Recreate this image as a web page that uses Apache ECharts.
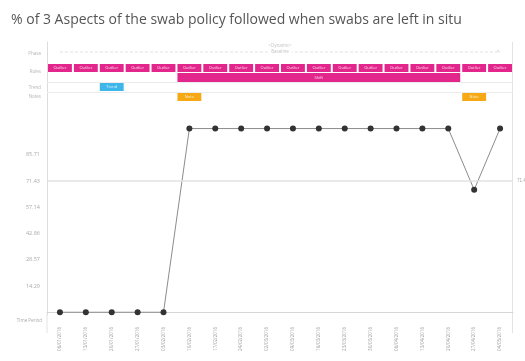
<!DOCTYPE html>
<html>
<head>
<meta charset="utf-8">
<script src="https://cdn.jsdelivr.net/npm/echarts@6/dist/echarts.min.js"></script>
<style>
  html, body { margin: 0; padding: 0; background: #fff; }
  #chart { width: 525px; height: 361px; }
</style>
</head>
<body>
<div id="chart"></div>
<script>
// Weekly audit periods
const categories = [
  '06/01/2016', '13/01/2016', '20/01/2016', '27/01/2016', '03/02/2016', '10/02/2016',
  '17/02/2016', '24/02/2016', '02/03/2016', '09/03/2016', '16/03/2016', '23/03/2016',
  '30/03/2016', '06/04/2016', '13/04/2016', '20/04/2016', '27/04/2016', '04/05/2016'
];
// % of the 3 aspects followed in each period
const pctFollowed = [0, 0, 0, 0, 0, 100, 100, 100, 100, 100, 100, 100, 100, 100, 100, 100, 66.67, 100];
const targetValue = 71.43;
const yTickValues = [14.29, 28.57, 42.86, 57.14, 71.43, 85.71];

// Annotation lanes shown above the chart (category indices)
const laneNames = ['Phase', 'Rules', 'Trend', 'Notes'];
const phaseSpans = [[0, 17]];
const phaseText = ['<Dynamic>', 'Baseline'];
const outlierWeeks = [0, 1, 2, 3, 4, 5, 6, 7, 8, 9, 10, 11, 12, 13, 14, 15, 16, 17];
const shiftSpans = [[5, 15]];
const trendSpans = [[2, 2]];
const noteSpans = [[5, 5], [16, 16]];

// lane geometry in the annotation strip's own units (0 = top, 60 = bottom)
const laneBand = {
  phase: 10,
  outlier: [22, 30],
  shift: [31, 40],
  trend: [41, 49],
  note: [51, 59]
};
const laneLabelAt = [12, 30, 46, 55];

const PINK = '#e2268c', BLUE = '#3fb6ea', ORANGE = '#f6a915';

function boxRenderer(band, color, text) {
  return function (params, api) {
    const s = api.value(0), e = api.value(1);
    const w = api.size([1, 0])[0];
    const a = api.coord([s, band[0]]);
    const b = api.coord([e, band[1]]);
    const x = a[0] - w / 2 + 1;
    const width = b[0] - a[0] + w - 2;
    return {
      type: 'group',
      children: [
        { type: 'rect', shape: { x: x, y: a[1], width: width, height: b[1] - a[1] },
          style: { fill: color } },
        { type: 'text', style: { text: text, x: x + width / 2, y: (a[1] + b[1]) / 2,
          fill: 'rgba(255,255,255,0.85)', fontSize: 4, fontFamily: 'Open Sans',
          align: 'center', verticalAlign: 'middle' } }
      ]
    };
  };
}

function phaseRenderer(params, api) {
  const s = api.value(0), e = api.value(1);
  const a = api.coord([s, laneBand.phase]);
  const b = api.coord([e, laneBand.phase]);
  const mid = (a[0] + b[0]) / 2;
  return {
    type: 'group',
    children: [
      { type: 'line', shape: { x1: a[0], y1: a[1], x2: b[0], y2: b[1] },
        style: { stroke: '#d9d9d9', lineWidth: 0.8, lineDash: [3, 2] } },
      { type: 'line', shape: { x1: b[0] - 3, y1: b[1] - 2, x2: b[0], y2: b[1] },
        style: { stroke: '#cfcfcf', lineWidth: 0.8 } },
      { type: 'text', style: { text: phaseText[0], x: mid, y: a[1] - 6, fill: '#c4c4c4',
        fontSize: 4.5, fontFamily: 'Open Sans', align: 'center', verticalAlign: 'middle' } },
      { type: 'text', style: { text: phaseText[1], x: mid, y: a[1], fill: '#c4c4c4',
        backgroundColor: '#fff', padding: [0, 3], fontSize: 4.5, fontFamily: 'Open Sans',
        align: 'center', verticalAlign: 'middle' } }
    ]
  };
}

const chart = echarts.init(document.getElementById('chart'), null, { renderer: 'canvas' });

const option = {
  backgroundColor: '#fff',
  animation: false,
  title: {
    text: '% of 3 Aspects of the swab policy followed when swabs are left in situ',
    left: 6, top: 8,
    textStyle: { fontFamily: 'Open Sans', fontSize: 14, fontWeight: 'normal', color: '#555' }
  },
  grid: [
    { left: 47, right: 12, top: 42, height: 60 },
    { left: 47, right: 12, top: 101, bottom: 46 }
  ],
  xAxis: [
    { gridIndex: 0, type: 'category', data: categories, show: false },
    {
      gridIndex: 1, type: 'category', data: categories,
      name: 'Time Period', nameLocation: 'start', nameGap: 5,
      nameTextStyle: { fontSize: 4.5, color: '#aaa', fontFamily: 'Open Sans',
        verticalAlign: 'top', padding: [6, 0, 0, 0] },
      axisLine: { lineStyle: { color: '#d6d6d6', width: 1 } },
      axisTick: { alignWithLabel: true, length: 4, lineStyle: { color: '#dcdcdc' } },
      axisLabel: { interval: 0, rotate: 90, margin: 12, fontSize: 4.5, color: '#9a9a9a',
        fontFamily: 'Open Sans' }
    }
  ],
  yAxis: [
    {
      gridIndex: 0, type: 'value', min: 0, max: 60, inverse: true,
      axisLine: { show: true, lineStyle: { color: '#dcdcdc' } },
      axisTick: { show: false }, splitLine: { show: false },
      axisLabel: {
        customValues: laneLabelAt, fontSize: 4.5, color: '#b5b5b5', margin: 6,
        fontFamily: 'Open Sans',
        formatter: function (v) { return laneNames[laneLabelAt.indexOf(v)] || ''; }
      }
    },
    {
      gridIndex: 1, type: 'value', min: -1.5, max: 115,
      axisLine: { show: true, lineStyle: { color: '#dcdcdc' } },
      axisTick: { show: false }, splitLine: { show: false },
      axisLabel: {
        customValues: yTickValues, fontSize: 5.5, color: '#aaa', margin: 7,
        fontFamily: 'Open Sans',
        formatter: function (v) { return v.toFixed(2); }
      }
    }
  ],
  graphic: [
    { type: 'line', shape: { x1: 512.5, y1: 42, x2: 512.5, y2: 333 },
      style: { stroke: '#e3e3e3', lineWidth: 1 } },
    { type: 'line', shape: { x1: 47, y1: 315, x2: 47, y2: 333 },
      style: { stroke: '#e3e3e3', lineWidth: 1 } }
  ],
  series: [
    {
      type: 'custom', xAxisIndex: 0, yAxisIndex: 0, silent: true,
      renderItem: phaseRenderer, data: phaseSpans,
      markLine: {
        silent: true, symbol: 'none', label: { show: false },
        lineStyle: { color: '#ececec', width: 1, type: 'solid' },
        data: [{ yAxis: 40.5 }, { yAxis: 50.5 }]
      }
    },
    {
      type: 'custom', xAxisIndex: 0, yAxisIndex: 0, silent: true,
      renderItem: boxRenderer(laneBand.outlier, PINK, 'Outlier'),
      data: outlierWeeks.map(function (i) { return [i, i]; })
    },
    {
      type: 'custom', xAxisIndex: 0, yAxisIndex: 0, silent: true,
      renderItem: boxRenderer(laneBand.shift, PINK, 'Shift'), data: shiftSpans
    },
    {
      type: 'custom', xAxisIndex: 0, yAxisIndex: 0, silent: true,
      renderItem: boxRenderer(laneBand.trend, BLUE, 'Trend'), data: trendSpans
    },
    {
      type: 'custom', xAxisIndex: 0, yAxisIndex: 0, silent: true,
      renderItem: boxRenderer(laneBand.note, ORANGE, 'Note'), data: noteSpans
    },
    {
      type: 'line', xAxisIndex: 1, yAxisIndex: 1,
      data: pctFollowed,
      symbol: 'circle', symbolSize: 6,
      lineStyle: { color: '#8c8c8c', width: 1 },
      itemStyle: { color: '#333' },
      markLine: {
        silent: true, symbol: 'none',
        lineStyle: { color: '#e2e2e2', width: 1.5, type: 'solid' },
        label: { position: 'end', fontSize: 4.5, color: '#aaa', distance: 4,
          formatter: function (p) { return p.value.toFixed(2); } },
        data: [{ yAxis: targetValue }]
      }
    }
  ]
};

chart.setOption(option);
</script>
</body>
</html>
